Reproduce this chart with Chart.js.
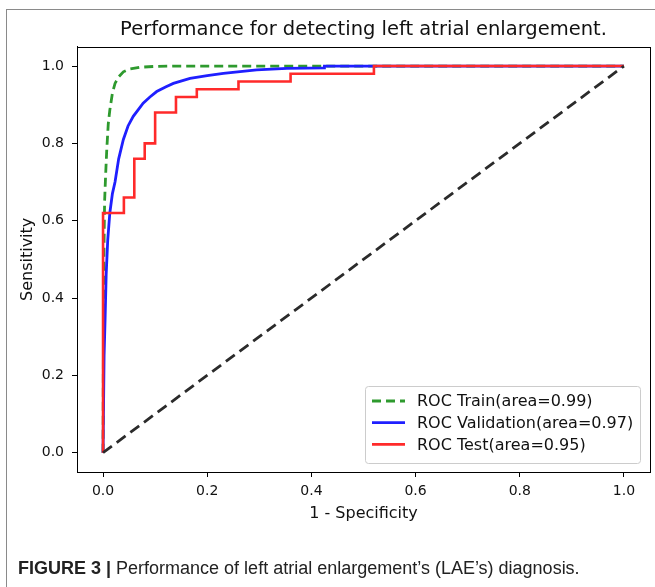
<!DOCTYPE html>
<html><head><meta charset="utf-8">
<script src="https://cdn.jsdelivr.net/npm/chart.js@4/dist/chart.umd.min.js"></script>
<style>
html,body{margin:0;padding:0;background:#fff;width:655px;height:587px;overflow:hidden;}
#frame{position:absolute;left:6px;top:9px;width:680px;height:620px;border-left:1.5px solid #8a8a8a;border-top:1.5px solid #8a8a8a;}
#wrap{position:absolute;left:0;top:0;width:655px;height:587px;}
#caption{position:absolute;left:18px;top:559px;font-family:"Liberation Sans",Arial,sans-serif;font-size:18px;line-height:1;color:#222;white-space:nowrap;}
</style></head><body>
<div id="frame"></div>
<div id="wrap"><canvas id="c" width="655" height="587"></canvas></div>
<div id="caption"><b>FIGURE 3 |</b> Performance of left atrial enlargement’s (LAE’s) diagnosis.</div>
<script>
const chartTitle = 'Performance for detecting left atrial enlargement.';
const xAxisTitle = '1 - Specificity';
const yAxisTitle = 'Sensitivity';
const tickValues = [0, 0.2, 0.4, 0.6, 0.8, 1.0];
const tickLabels = ['0.0', '0.2', '0.4', '0.6', '0.8', '1.0'];
const seriesLabels = ['ROC Train(area=0.99)', 'ROC Validation(area=0.97)', 'ROC Test(area=0.95)'];

const trainFpr = [0, 0.001, 0.002, 0.003, 0.005, 0.007, 0.010, 0.013, 0.018, 0.023, 0.030, 0.039, 0.050, 0.071, 0.100, 0.135, 1.0];
const trainTpr = [0, 0.40, 0.55, 0.65, 0.72, 0.78, 0.85, 0.886, 0.93, 0.955, 0.972, 0.985, 0.992, 0.997, 0.999, 1.0, 1.0];

const valFpr = [0, 0.002, 0.004, 0.006, 0.009, 0.013, 0.018, 0.023, 0.030, 0.039, 0.048, 0.058, 0.077, 0.090, 0.103, 0.120, 0.135, 0.167, 0.200, 0.231, 0.295, 0.353, 0.425, 0.425, 1.0];
const valTpr = [0, 0.25, 0.35, 0.46, 0.55, 0.62, 0.67, 0.70, 0.76, 0.81, 0.845, 0.87, 0.904, 0.92, 0.934, 0.946, 0.955, 0.968, 0.975, 0.981, 0.990, 0.994, 0.995, 1.0, 1.0];

const testFpr = [0, 0, 0.04, 0.04, 0.06, 0.06, 0.08, 0.08, 0.10, 0.10, 0.14, 0.14, 0.18, 0.18, 0.26, 0.26, 0.36, 0.36, 0.52, 0.52, 1.0];
const testTpr = [0, 0.62, 0.62, 0.66, 0.66, 0.76, 0.76, 0.80, 0.80, 0.88, 0.88, 0.92, 0.92, 0.94, 0.94, 0.96, 0.96, 0.98, 0.98, 1.0, 1.0];

const chanceFpr = [0, 1];
const chanceTpr = [0, 1];

const toPoints = (xs, ys) => xs.map((x, i) => ({x: x, y: ys[i]}));

const FONT = "'DejaVu Sans', sans-serif";

const spinesPlugin = {
  id: 'spines',
  afterDraw(chart) {
    const {ctx, chartArea: a} = chart;
    ctx.save();
    ctx.strokeStyle = '#000';
    ctx.lineWidth = 1;
    ctx.strokeRect(Math.round(a.left) + 0.5, Math.round(a.top) + 0.5, Math.round(a.right - a.left), Math.round(a.bottom - a.top));
    ctx.restore();
  }
};

const legendPlugin = {
  id: 'rocLegend',
  afterDraw(chart) {
    const {ctx, chartArea: a} = chart;
    const items = chart.data.datasets.filter(d => seriesLabels.includes(d.label));
    const boxW = 275, boxH = 77;
    const x0 = a.right - 10 - boxW, y0 = a.bottom - 9 - boxH;
    ctx.save();
    ctx.beginPath();
    if (ctx.roundRect) ctx.roundRect(x0 + 0.5, y0 + 0.5, boxW, boxH, 3); else ctx.rect(x0 + 0.5, y0 + 0.5, boxW, boxH);
    ctx.fillStyle = 'rgba(255,255,255,0.85)';
    ctx.fill();
    ctx.strokeStyle = '#cccccc';
    ctx.lineWidth = 1;
    ctx.stroke();
    ctx.font = '16px ' + FONT;
    ctx.textBaseline = 'middle';
    ctx.fillStyle = '#111';
    items.forEach((d, i) => {
      const y = y0 + 15 + i * 21.7;
      ctx.beginPath();
      ctx.setLineDash(d.borderDash || []);
      ctx.strokeStyle = d.borderColor;
      ctx.lineWidth = d.borderWidth;
      ctx.moveTo(x0 + 7, y);
      ctx.lineTo(x0 + 40, y);
      ctx.stroke();
      ctx.setLineDash([]);
      ctx.fillText(d.label, x0 + 52, y + 1);
    });
    ctx.restore();
  }
};

const axisCommon = {
  type: 'linear',
  min: -0.05,
  max: 1.05,
  afterBuildTicks: s => { s.ticks = tickValues.map(v => ({value: v})); },
  ticks: {
    callback: (v, i) => tickLabels[i],
    color: '#111',
    font: {family: FONT, size: 14},
    maxRotation: 0,
    autoSkip: false
  },
  grid: {drawOnChartArea: false, drawTicks: true, tickLength: 5, color: '#000', lineWidth: 1},
  border: {display: true, color: '#000', width: 1}
};

new Chart(document.getElementById('c'), {
  type: 'scatter',
  data: {
    datasets: [
      {label: seriesLabels[0], data: toPoints(trainFpr, trainTpr), showLine: true, borderColor: '#2e9a2e', borderWidth: 2.8, borderDash: [9, 5], pointRadius: 0, tension: 0, order: 4},
      {label: seriesLabels[1], data: toPoints(valFpr, valTpr), showLine: true, borderColor: '#1f1fff', borderWidth: 2.8, pointRadius: 0, tension: 0, order: 3},
      {label: seriesLabels[2], data: toPoints(testFpr, testTpr), showLine: true, borderColor: '#ff2a2a', borderWidth: 2.6, pointRadius: 0, tension: 0, order: 2},
      {label: 'Chance', data: toPoints(chanceFpr, chanceTpr), showLine: true, borderColor: '#2b2b2b', borderWidth: 2.8, borderDash: [11, 6], pointRadius: 0, tension: 0, order: 1}
    ]
  },
  options: {
    responsive: false,
    animation: false,
    layout: {padding: {left: 0, right: 5, top: 0, bottom: 55}},
    plugins: {
      legend: {display: false},
      tooltip: {enabled: false},
      title: {display: true, fullSize: false, text: chartTitle, color: '#111', font: {family: FONT, size: 19.5, weight: 'normal'}, padding: {top: 18.5, bottom: 4.8}}
    },
    scales: {
      x: Object.assign({}, axisCommon, {
        position: 'bottom',
        ticks: Object.assign({}, axisCommon.ticks, {padding: 5.5}),
        title: {display: true, text: xAxisTitle, color: '#111', font: {family: FONT, size: 16}, padding: {top: 0, bottom: 8.5}},
        afterFit: s => { s.height = 60; }
      }),
      y: Object.assign({}, axisCommon, {
        position: 'left',
        ticks: Object.assign({}, axisCommon.ticks, {padding: 8}),
        title: {display: true, text: yAxisTitle, color: '#111', font: {family: FONT, size: 16}, padding: {top: 18, bottom: 0}},
        afterFit: s => { s.width = 77; }
      })
    }
  },
  plugins: [spinesPlugin, legendPlugin]
});
</script>
</body></html>
